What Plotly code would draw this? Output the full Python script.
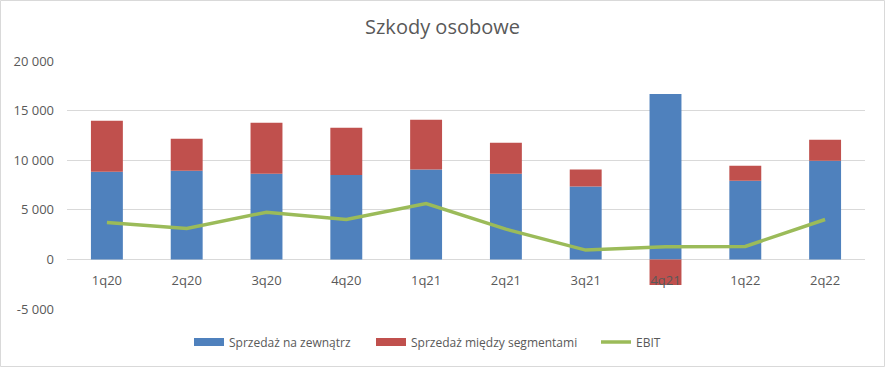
import plotly.graph_objects as go

categories = ["1q20", "2q20", "3q20", "4q20", "1q21", "2q21", "3q21", "4q21", "1q22", "2q22"]
sprzedaz_zewn = [8840, 8940, 8640, 8510, 9050, 8640, 7340, 16680, 7940, 9950]
sprzedaz_miedzy = [5130, 3220, 5130, 4760, 5020, 3120, 1710, -2580, 1510, 2110]
ebit = [3720, 3120, 4760, 4020, 5630, 3050, 940, 1270, 1310, 4020]
y_tickvals = [-5000, 0, 5000, 10000, 15000, 20000]
y_ticktext = ["-5 000", "0", "5 000", "10 000", "15 000", "20 000"]
series_names = ["Sprzedaż na zewnątrz", "Sprzedaż między segmentami", "EBIT"]
series_colors = ["#4f81bd", "#c0504d", "#9bbb59"]

FONT = "Open Sans"
GREY = "#595959"

W, H = 885, 367
ml, mr, mt, mb = 67, 20, 61, 58
pw, ph = W - ml - mr, H - mt - mb

fig = go.Figure()
fig.add_trace(go.Bar(x=categories, y=sprzedaz_zewn, name=series_names[0], showlegend=False,
                     marker=dict(color=series_colors[0], line=dict(width=0))))
fig.add_trace(go.Bar(x=categories, y=sprzedaz_miedzy, name=series_names[1], showlegend=False,
                     marker=dict(color=series_colors[1], line=dict(width=0))))
fig.add_trace(go.Scatter(x=categories, y=ebit, name=series_names[2], mode="lines",
                         showlegend=False, line=dict(color=series_colors[2], width=3.5)))

# legend-only entries (Excel-style wide swatches), one legend each for exact placement
legend_left_px = [189, 371, 596]
legend_widths = [8, 8, 3.5]
for i, (nm, col) in enumerate(zip(series_names, series_colors)):
    fig.add_trace(go.Scatter(x=[None], y=[None], mode="lines", name=nm,
                             legend="legend" if i == 0 else f"legend{i+1}",
                             line=dict(color=col, width=legend_widths[i]), hoverinfo="skip"))

ymin, ymax = -5000, 20000
leg_y = -(342 - (H - mb)) / ph
leg_common = dict(orientation="h", xanchor="left", yanchor="middle", y=leg_y,
                  font=dict(family=FONT, size=12, color=GREY), bgcolor="rgba(0,0,0,0)",
                  borderwidth=0)
legends = {}
for i, px in enumerate(legend_left_px):
    key = "legend" if i == 0 else f"legend{i+1}"
    legends[key] = dict(leg_common, x=(px - ml) / pw)

fig.update_layout(
    width=W, height=H,
    margin=dict(l=ml, r=mr, t=mt, b=mb, autoexpand=False),
    paper_bgcolor="white", plot_bgcolor="white",
    barmode="relative", bargap=0.6,
    font=dict(family=FONT, size=13, color=GREY),
    title=dict(text="Szkody osobowe", x=0.5, xanchor="center", y=1 - 27 / H, yanchor="middle",
               yref="container", font=dict(family=FONT, size=20, color=GREY)),
    showlegend=True,
    xaxis=dict(showgrid=False, showline=False, zeroline=False, ticks="", automargin=False,
               anchor="free", position=(0 - ymin) / (ymax - ymin),
               ticklabelstandoff=12, tickfont=dict(size=13, color=GREY)),
    yaxis=dict(range=[ymin, ymax], tickvals=y_tickvals, ticktext=y_ticktext, automargin=False,
               showgrid=True, gridcolor="#d9d9d9", gridwidth=1,
               zeroline=True, zerolinecolor="#d9d9d9", zerolinewidth=1,
               showline=False, ticks="", ticklabelstandoff=12,
               tickfont=dict(size=13, color=GREY)),
    shapes=[dict(type="rect", xref="paper", yref="paper",
                 x0=(0.5 - ml) / pw, x1=(W - 0.5 - ml) / pw,
                 y0=-(mb - 0.5) / ph, y1=(ph + mt - 0.5) / ph,
                 line=dict(color="#d9d9d9", width=1), fillcolor="rgba(0,0,0,0)", layer="below")],
    **legends,
)
fig.write_html("out.html", config={"displayModeBar": False},
               post_script="document.body.style.margin='0';")
